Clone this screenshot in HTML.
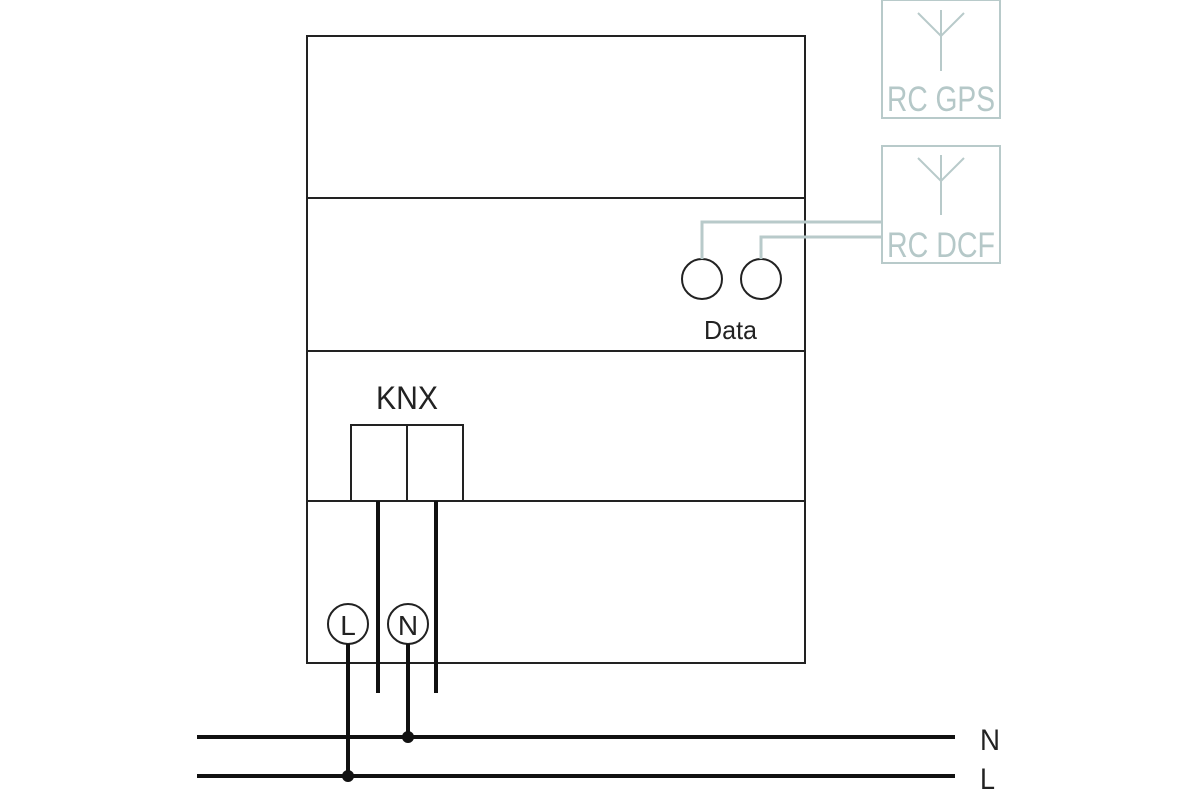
<!DOCTYPE html>
<html><head><style>body{margin:0;background:#fff}</style></head><body>
<svg width="1200" height="800" xmlns="http://www.w3.org/2000/svg" font-family="Liberation Sans, sans-serif">
<rect width="1200" height="800" fill="#fff"/>
<g fill="none" stroke="#222" stroke-width="2">
<rect x="307" y="36" width="498" height="627"/>
<line x1="307" y1="198" x2="805" y2="198"/>
<line x1="307" y1="351" x2="805" y2="351"/>
<line x1="307" y1="501" x2="805" y2="501"/>
<rect x="351" y="425" width="112" height="76"/>
<line x1="407" y1="425" x2="407" y2="501"/>
<circle cx="702" cy="279" r="20"/>
<circle cx="761" cy="279" r="20"/>
<circle cx="348" cy="624" r="20"/>
<circle cx="408" cy="624" r="20"/>
</g>
<g stroke="#111" stroke-width="4" fill="none">
<line x1="378" y1="501" x2="378" y2="693"/>
<line x1="436" y1="501" x2="436" y2="693"/>
<line x1="348" y1="644" x2="348" y2="776"/>
<line x1="408" y1="644" x2="408" y2="737"/>
<line x1="197" y1="737" x2="955" y2="737"/>
<line x1="197" y1="776" x2="955" y2="776"/>
</g>
<circle cx="408" cy="737" r="6" fill="#111"/>
<circle cx="348" cy="776" r="6" fill="#111"/>
<g fill="none" stroke="#b8caca" stroke-width="3">
<rect x="882" y="0" width="118" height="118" stroke-width="2"/>
<rect x="882" y="146" width="118" height="117" stroke-width="2"/>
<path d="M702 259V222H882M761 259V237H882"/>
</g>
<g fill="none" stroke="#b8caca" stroke-width="2">
<path d="M941 10V71M918 13L941 36L964 13"/>
<path d="M941 155V215M918 158L941 181L964 158"/>
</g>
<g fill="#b5c8c8" font-size="35">
<text x="887" y="111" textLength="108" lengthAdjust="spacingAndGlyphs">RC GPS</text>
<text x="887" y="257" textLength="108" lengthAdjust="spacingAndGlyphs">RC DCF</text>
</g>
<g fill="#222">
<text x="704" y="339" font-size="26" textLength="53" lengthAdjust="spacingAndGlyphs">Data</text>
<text x="376" y="409" font-size="32" textLength="62" lengthAdjust="spacingAndGlyphs">KNX</text>
<text x="348" y="635" font-size="28" text-anchor="middle">L</text>
<text x="408" y="635" font-size="28" text-anchor="middle">N</text>
<text x="980" y="750" font-size="30" textLength="20" lengthAdjust="spacingAndGlyphs">N</text>
<text x="980" y="789" font-size="30" textLength="15" lengthAdjust="spacingAndGlyphs">L</text>
</g>
</svg>
</body></html>
